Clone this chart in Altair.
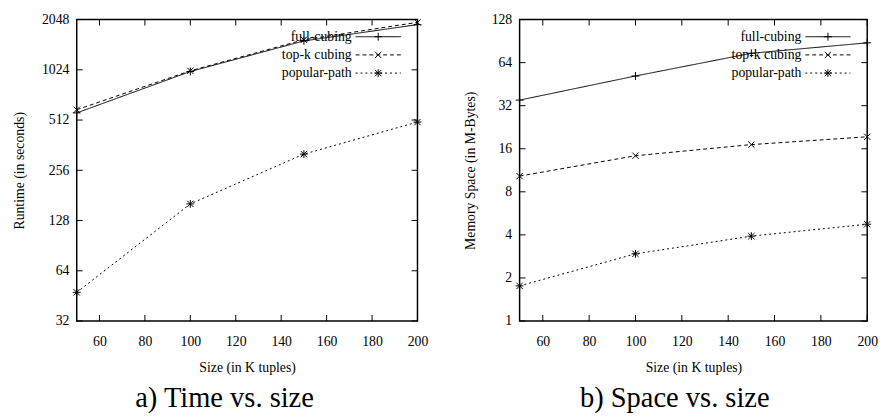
import altair as alt
import pandas as pd

sizes = [50, 100, 150, 200]
series = ["full-cubing", "top-k cubing", "popular-path"]

time_full = [565, 1000, 1525, 1910]
time_topk = [590, 1010, 1550, 1970]
time_pop = [47.5, 161, 320, 498]

space_full = [35, 51.6, 74.4, 88]
space_topk = [10.3, 14.3, 17.1, 19.4]
space_pop = [1.76, 2.95, 3.92, 4.75]

x_ticks = [60, 80, 100, 120, 140, 160, 180, 200]
time_ticks = [32, 64, 128, 256, 512, 1024, 2048]
space_ticks = [1, 2, 4, 8, 16, 32, 64, 128]

FONT = "Liberation Serif"
PLUS = "M-1,0L1,0M0,-1L0,1"
CROSS = "M-0.8,-0.8L0.8,0.8M-0.8,0.8L0.8,-0.8"
STAR = PLUS + CROSS
SHAPES = [PLUS, CROSS, STAR]
DASHES = [[1, 0], [4, 3], [2, 3]]
H = 307
TICK = 6

AX = dict(domain=False, grid=False, ticks=False, tickSize=0, labelFlush=False,
          labelFont=FONT, labelFontSize=14, labelColor="black",
          titleFont=FONT, titleFontSize=14, titleFontWeight="normal", titleColor="black")


def panel(vals, yticks, ydomain, ytitle, ptitle, width, ytitle_x, tdx):
    rows = []
    for s, v in zip(series, vals):
        for x, y in zip(sizes, v):
            rows.append({"size": x, "value": y, "series": s})
    df = pd.DataFrame(rows)
    xs = alt.Scale(domain=[50, 200], nice=False, zero=False)
    ys = alt.Scale(type="log", base=2, domain=ydomain, nice=False)
    dash = alt.Scale(domain=series, range=DASHES)
    shp = alt.Scale(domain=series, range=SHAPES)

    bottom_axis = alt.Axis(orient="bottom", values=x_ticks,
                           labelPadding=25, labelBaseline="alphabetic", format="d",
                           title="Size (in K tuples)", titleY=51, titleBaseline="alphabetic",
                           **AX)
    left_axis = alt.Axis(orient="left", values=yticks,
                         labelPadding=8, format="d", title=ytitle, titleX=ytitle_x,
                         titleBaseline="middle", **AX)

    base = alt.Chart(df)
    lines = base.mark_line(color="black", strokeWidth=1).encode(
        x=alt.X("size:Q", scale=xs, axis=bottom_axis),
        y=alt.Y("value:Q", scale=ys, axis=left_axis),
        strokeDash=alt.StrokeDash("series:N", scale=dash, legend=None),
        detail="series:N",
    )
    pts = base.mark_point(filled=False, color="black", strokeWidth=1, size=64, opacity=1).encode(
        x=alt.X("size:Q", scale=xs, axis=bottom_axis),
        y=alt.Y("value:Q", scale=ys, axis=left_axis),
        shape=alt.Shape("series:N", scale=shp, legend=None),
    )

    xt = alt.Chart(pd.DataFrame({"t": x_ticks}))
    yt = alt.Chart(pd.DataFrame({"t": yticks}))
    tick_layers = []
    for yv in [H - TICK / 2, TICK / 2]:
        tick_layers.append(xt.mark_tick(color="black", thickness=1, size=TICK, opacity=1).encode(
            x=alt.X("t:Q", scale=xs, axis=bottom_axis), y=alt.value(yv)))
    for xv in [TICK / 2, width - TICK / 2]:
        tick_layers.append(yt.mark_tick(color="black", thickness=1, size=TICK, opacity=1).encode(
            y=alt.Y("t:Q", scale=ys, axis=left_axis), x=alt.value(xv)))

    layers = [lines, pts] + tick_layers
    ry = [17.5, 36, 54.5]
    for i, s in enumerate(series):
        ld = pd.DataFrame({"label": [s]})
        lc = alt.Chart(ld)
        layers.append(lc.mark_text(align="right", baseline="middle", font=FONT,
                                   fontSize=14, color="black").encode(
            x=alt.value(width - 67), y=alt.value(ry[i]), text="label:N"))
        layers.append(lc.mark_rule(color="black", strokeWidth=1, strokeDash=DASHES[i]).encode(
            x=alt.value(width - 63), x2=alt.value(width - 17), y=alt.value(ry[i])))
        layers.append(lc.mark_point(shape=SHAPES[i], filled=False, color="black",
                                    strokeWidth=1, size=64, opacity=1).encode(
            x=alt.value(width - 40), y=alt.value(ry[i])))

    return alt.layer(*layers).properties(
        width=width, height=H,
        title=alt.TitleParams(ptitle, orient="bottom", font=FONT, fontSize=29,
                              fontWeight="normal", color="black", offset=11, dx=tdx),
    )


left = panel([time_full, time_topk, time_pop], time_ticks, [32, 2048],
             "Runtime (in seconds)", "a) Time vs. size", 347, -58, -23)
right = panel([space_full, space_topk, space_pop], space_ticks, [1, 128],
              "Memory Space (in M-Bytes)", "b) Space vs. size", 354, -50, -19)

chart = alt.hconcat(left, right, spacing=34).properties(
    padding={"left": 4, "top": 0, "right": 0, "bottom": 0}
).configure(
    font=FONT, background="white"
).configure_view(
    stroke="black", strokeWidth=1.5
).configure_axis(**AX)

chart.save("out.html", embed_options={"renderer": "svg", "actions": False})
